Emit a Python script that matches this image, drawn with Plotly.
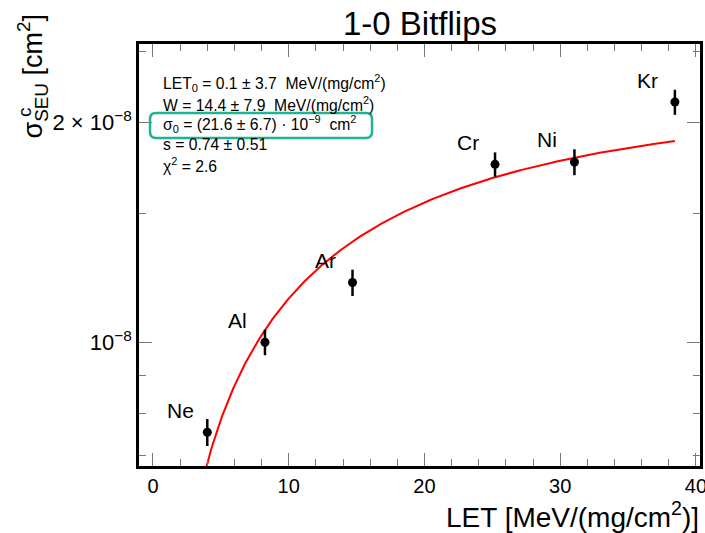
import numpy as np
import plotly.graph_objects as go

# ---------------- data ----------------
ions = ["Ne", "Al", "Ar", "Cr", "Ni", "Kr"]
let_values = [4.0, 8.25, 14.7, 25.2, 31.05, 38.45]
sigma_values = [7.53e-9, 1.0e-8, 1.207e-8, 1.752e-8, 1.765e-8, 2.132e-8]
sigma_errors = [0.32e-9, 0.04e-8, 0.05e-8, 0.067e-8, 0.072e-8, 0.084e-8]

# Weibull fit parameters (as printed on the chart)
fit_let0 = 0.1
fit_w = 14.4
fit_s = 0.74
fit_sigma0 = 21.6e-9

x_tick_values = [0, 10, 20, 30, 40]
x_minor_values = [2, 4, 6, 8, 12, 14, 16, 18, 22, 24, 26, 28, 32, 34, 36, 38]
y_tick_values = [1e-8, 2e-8]
y_tick_labels = ["10<sup>\u22128</sup>", "2 \u00d7 10<sup>\u22128</sup>"]
y_minor_values = [7e-9, 8e-9, 9e-9, 1.5e-8, 2.5e-8]

stat_lines = [
    "LET<sub>0</sub> = 0.1 \u00b1 3.7 \u00a0MeV/(mg/cm<sup>2</sup>)",
    "W = 14.4 \u00b1 7.9 \u00a0MeV/(mg/cm<sup>2</sup>)",
    "\u03c3<sub>0</sub> = (21.6 \u00b1 6.7) \u00b7 10<sup>\u22129</sup> \u00a0cm<sup>2</sup>",
    "s = 0.74 \u00b1 0.51",
    "\u03c7<sup>2</sup> = 2.6",
]

title_text = "1-0 Bitflips"
x_title = "LET [MeV/(mg/cm<sup>2</sup>)]"
y_title_main = "\u03c3<sub>SEU</sub> [cm<sup>2</sup>]"
y_title_sup = "c"

# ---------------- layout geometry ----------------
W, H = 705, 533
L, R, T, B = 139, 700, 44, 466
FONT = "Liberation Sans, Arial, Helvetica, sans-serif"
TEAL = "#1db394"


def px(xp):
    return (xp - L) / (R - L)


def py(yp):
    return (B - yp) / (B - T)


fig = go.Figure()

# fit curve
xs = np.linspace(1.0, let_values[-1], 400)
ys = fit_sigma0 * (1 - np.exp(-(((xs - fit_let0) / fit_w) ** fit_s)))
fig.add_trace(go.Scatter(x=xs, y=ys, mode="lines",
                         line=dict(color="#ff0000", width=2),
                         hoverinfo="skip", showlegend=False))

# data points
fig.add_trace(go.Scatter(
    x=let_values, y=sigma_values, mode="markers",
    marker=dict(color="black", size=9),
    error_y=dict(type="data", array=sigma_errors, color="black",
                 thickness=2.5, width=0),
    showlegend=False, cliponaxis=False))

# ion labels
for name, xv, yv in zip(ions, let_values, sigma_values):
    fig.add_annotation(x=xv, y=np.log10(yv), xref="x", yref="y",
                       text=name, showarrow=False,
                       xshift=-27, yshift=22,
                       font=dict(family=FONT, size=21, color="black"))

# statistics text
for i, line in enumerate(stat_lines):
    fig.add_annotation(x=px(161), y=py(83 + 20.6 * i), xref="paper", yref="paper",
                       text=line, showarrow=False, xanchor="left", yanchor="middle",
                       font=dict(family=FONT, size=15.7, color="black"))

# rounded highlight box
x0, x1 = 150, 372
y0, y1 = 113, 138
r = 6
path = (
    f"M {px(x0 + r)} {py(y0)} L {px(x1 - r)} {py(y0)} "
    f"Q {px(x1)} {py(y0)} {px(x1)} {py(y0 + r)} "
    f"L {px(x1)} {py(y1 - r)} Q {px(x1)} {py(y1)} {px(x1 - r)} {py(y1)} "
    f"L {px(x0 + r)} {py(y1)} Q {px(x0)} {py(y1)} {px(x0)} {py(y1 - r)} "
    f"L {px(x0)} {py(y0 + r)} Q {px(x0)} {py(y0)} {px(x0 + r)} {py(y0)} Z"
)
fig.add_shape(type="path", path=path, xref="paper", yref="paper",
              line=dict(color=TEAL, width=2.5))

# title
fig.add_annotation(x=0.5, y=py(24), xref="paper", yref="paper", text=title_text,
                   showarrow=False, xanchor="center", yanchor="middle",
                   font=dict(family=FONT, size=33, color="black"))

# x axis title
fig.add_annotation(x=px(701), y=py(515), xref="paper", yref="paper", text=x_title,
                   showarrow=False, xanchor="right", yanchor="middle",
                   font=dict(family=FONT, size=28, color="black"))

# y axis title
fig.add_annotation(x=px(32), y=py(12), xref="paper", yref="paper", text=y_title_main,
                   showarrow=False, xanchor="center", yanchor="top", textangle=-90,
                   font=dict(family=FONT, size=27, color="black"))
fig.add_annotation(x=px(24), y=py(112), xref="paper", yref="paper", text=y_title_sup,
                   showarrow=False, xanchor="center", yanchor="middle", textangle=-90,
                   font=dict(family=FONT, size=19, color="black"))

tick_color = "#777777"
fig.update_xaxes(
    range=[-1.03, 40.3], tickvals=x_tick_values, ticktext=[str(v) for v in x_tick_values],
    ticks="inside", ticklen=13, tickwidth=1, tickcolor=tick_color,
    minor=dict(tickvals=x_minor_values, ticks="inside", ticklen=7, tickwidth=1,
               tickcolor=tick_color, showgrid=False),
    showline=True, linewidth=2.5, linecolor="black", mirror="ticks",
    showgrid=False, zeroline=False, automargin=False, ticklabeloverflow="allow",
    tickfont=dict(family=FONT, size=20, color="black"),
)
fig.update_yaxes(
    type="log", range=[np.log10(6.77e-9), np.log10(2.56e-8)],
    tickvals=y_tick_values, ticktext=y_tick_labels,
    ticks="inside", ticklen=13, tickwidth=1, tickcolor=tick_color,
    minor=dict(tickvals=y_minor_values, ticks="inside", ticklen=7, tickwidth=1,
               tickcolor=tick_color, showgrid=False),
    showline=True, linewidth=2.5, linecolor="black", mirror="ticks",
    showgrid=False, zeroline=False, automargin=False, ticklabeloverflow="allow",
    tickfont=dict(family=FONT, size=22, color="black"),
)

fig.update_layout(
    width=W, height=H,
    margin=dict(l=L, r=W - R, t=T, b=H - B),
    plot_bgcolor="white", paper_bgcolor="white",
    font=dict(family=FONT, color="black"),
    showlegend=False,
)

fig.write_html("out.html", config={"displayModeBar": False},
               post_script="document.body.style.margin='0px';")
